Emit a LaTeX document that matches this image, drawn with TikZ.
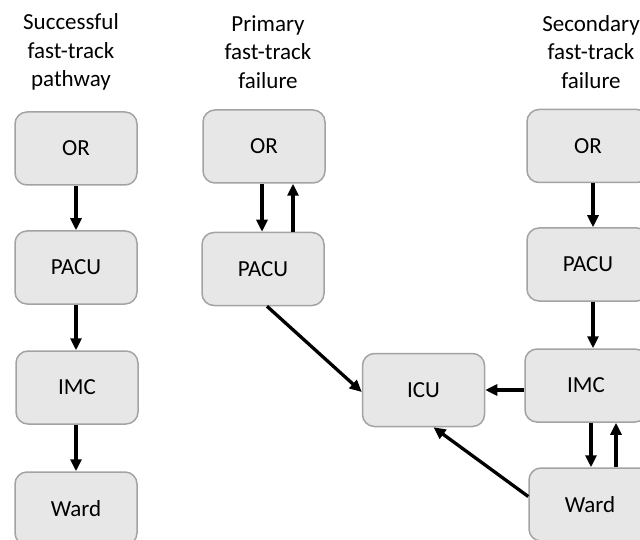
\documentclass[tikz,border=0pt]{standalone}
\usepackage{fontspec}
\setmainfont{Carlito}
\usepackage{tikz}
\usetikzlibrary{shapes, arrows.meta, positioning}
\definecolor{boxfill}{HTML}{E7E7E7}
\definecolor{boxline}{HTML}{A3A3A3}

\begin{document}
\begin{tikzpicture}
  [
    x=1pt, y=-1pt,
    Box/.style={rectangle, rounded corners=12pt, draw=boxline, fill=boxfill, line width=1.5pt, minimum width=122pt, minimum height=73pt, font=\fontsize{23}{28}\selectfont},
    Title/.style={align=center, font=\fontsize{23}{28.5}\selectfont},
    Arrow/.style={-{Triangle[length=12pt, width=11pt]}, draw, line width=3.3pt}
  ]
  \useasboundingbox (0, 0) rectangle (640, 540);
  % Titles
  \node[Title] (t1) at(71, 52) {Successful\\fast-track\\pathway};
  \node[Title] (t2) at(268, 52) {Primary\\fast-track\\failure};
  \node[Title] (t3) at(591, 52) {Secondary\\fast-track\\failure};
  % Nodes
  \node[Box] (or1) at(76, 148.5) {OR};
  \node[Box] (pacu1) at(76, 267.5) {PACU};
  \node[Box] (imc1) at(77, 387.5) {IMC};
  \node[Box] (ward1) at(76, 508.5) {Ward};
  \node[Box] (or2) at(264, 146.5) {OR};
  \node[Box] (pacu2) at(263, 269) {PACU};
  \node[Box] (icu) at(423.5, 390) {ICU};
  \node[Box] (or3) at(588, 146) {OR};
  \node[Box] (pacu3) at(588, 264.5) {PACU};
  \node[Box] (imc3) at(586, 385.5) {IMC};
  \node[Box] (ward3) at(590, 504.5) {Ward};
  % Lines
  \path [Arrow] (or1) -- (pacu1);
  \path [Arrow] (pacu1) -- (pacu1 |- imc1.north);
  \path [Arrow] (imc1.south -| ward1) -- (ward1);
  \path [Arrow] ([xshift=-2pt]or2.south) -- ([xshift=-2pt]or2.south |- pacu2.north);
  \path [Arrow] ([xshift=29pt]or2.south |- pacu2.north) -- ([xshift=29pt]or2.south);
  \path [Arrow] ([xshift=4pt]pacu2.south) -- ([yshift=-2pt]icu.west);
  \path [Arrow] ([xshift=5pt]or3.south) -- ([xshift=5pt]or3.south |- pacu3.north);
  \path [Arrow] ([xshift=5pt]pacu3.south) -- ([xshift=5pt]pacu3.south |- imc3.north);
  \path [Arrow] ([xshift=5pt]imc3.south) -- ([xshift=5pt]imc3.south |- ward3.north);
  \path [Arrow] ([xshift=30pt]imc3.south |- ward3.north) -- ([xshift=30pt]imc3.south);
  \path [Arrow] (imc3.west |- icu.east) -- (icu.east);
  \path [Arrow] ([yshift=8pt]ward3.west) -- ([xshift=10pt]icu.south);
\end{tikzpicture}
\end{document}
